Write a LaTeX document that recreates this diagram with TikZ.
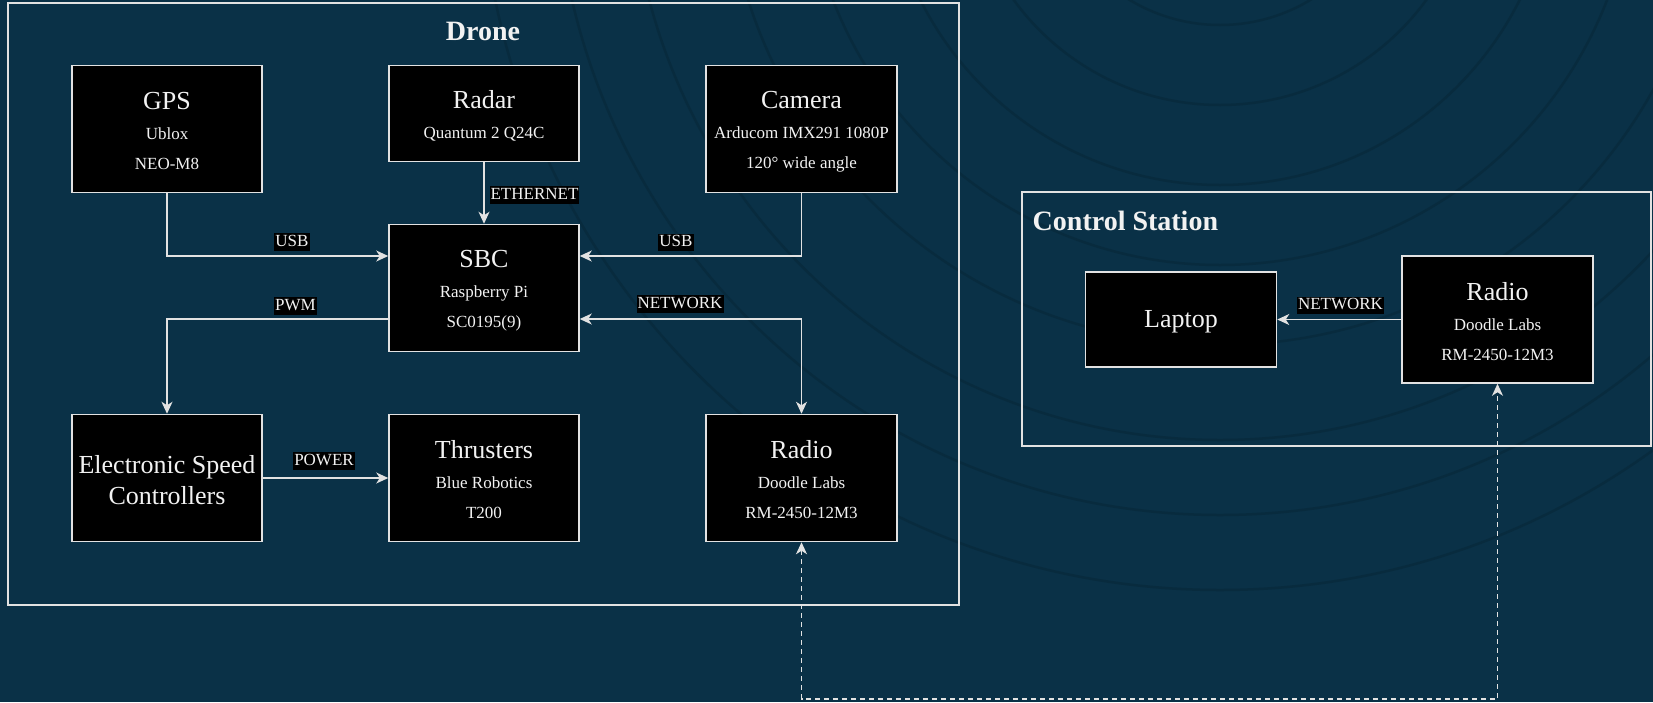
\documentclass[tikz,border=0pt]{standalone}
\usepackage{fontspec}
\setmainfont{Liberation Serif}
\usetikzlibrary{arrows.meta,calc}
\definecolor{bg}{RGB}{10,49,71}
\definecolor{arcc}{RGB}{8,43,62}
\definecolor{edgec}{RGB}{226,226,226}
\definecolor{txtc}{RGB}{242,242,242}
\tikzset{
  blk/.style={draw=edgec, fill=black, line width=1.5pt, inner sep=0pt, align=center,
    minimum width=190pt, minimum height=127pt, text=txtc, font=\fontsize{17}{30}\selectfont},
  frame/.style={draw=edgec, line width=1.5pt, inner sep=0pt},
  conn/.style={draw=edgec, line width=1.4pt, -{Stealth[length=12pt,width=11pt,inset=3.5pt]}},
  biconn/.style={draw=edgec, line width=1.4pt, {Stealth[length=12pt,width=11pt,inset=3.5pt]}-{Stealth[length=12pt,width=11pt,inset=3.5pt]}},
  lbl/.style={fill=black, text=txtc, inner xsep=1pt, inner ysep=1pt, text height=12pt, text depth=3.5pt,
    font=\fontsize{17}{17}\selectfont},
  ttl/.style={text=txtc, inner sep=0pt, font=\bfseries\fontsize{28}{28}\selectfont},
}
\newcommand{\bt}[1]{{\fontsize{26}{30}\selectfont\rule{0pt}{22pt}#1}}
\begin{document}
\begin{tikzpicture}[x=1pt,y=-1pt]
\fill[bg] (0,0) rectangle (1653,702);
\useasboundingbox (0,0) rectangle (1653,702);
\begin{scope}
\clip (0,0) rectangle (1653,702);
\foreach \r in {175,255,335,415,495,590,665,740}
  \draw[arcc, line width=2.5pt] (1220,-150) circle[radius=\r];
\end{scope}

% containers
\node[frame, minimum width=951pt, minimum height=602pt] (drone) at (483.5,304) {};
\node[ttl] (dronet) at (483,31) {Drone};
\node[frame, minimum width=629pt, minimum height=254pt] (cs) at (1336.5,319) {};
\node[ttl, anchor=west] (cst) at (1032.5,221) {Control Station};

% blocks
\node[blk] (gps) at (167,129) {\bt{GPS}\\Ublox\\NEO-M8};
\node[blk, minimum height=96pt] (radar) at (484,113.5) {\bt{Radar}\\Quantum 2 Q24C};
\node[blk, minimum width=191pt] (cam) at (801.5,129) {\bt{Camera}\\Arducom IMX291 1080P\\120° wide angle};
\node[blk] (sbc) at (484,288) {\bt{SBC}\\Raspberry Pi\\SC0195(9)};
\node[blk, font=\fontsize{26}{31}\selectfont] (esc) at (167,478) {\rule{0pt}{22pt}Electronic Speed\\Controllers};
\node[blk] (thr) at (484,478) {\bt{Thrusters}\\Blue Robotics\\T200};
\node[blk, minimum width=191pt] (radio) at (801.5,478) {\bt{Radio}\\Doodle Labs\\RM-2450-12M3};
\node[blk, minimum width=191pt, minimum height=95pt, font=\fontsize{26}{30}\selectfont] (laptop) at (1181,319.5) {\rule{0pt}{22pt}Laptop};
\node[blk, minimum width=191pt] (csradio) at (1497.5,319.5) {\bt{Radio}\\Doodle Labs\\RM-2450-12M3};

% rows
\coordinate (r1) at (0,256);
\coordinate (r2) at (0,319);
\coordinate (bot) at (0,699);

% connectors
\draw[conn] (gps.south) |- (sbc.west |- r1);
\draw[conn] (cam.south) |- (sbc.east |- r1);
\draw[conn] (radar.south) -- (sbc.north);
\draw[conn] (sbc.west |- r2) -| (esc.north);
\draw[biconn] (radio.north) |- (sbc.east |- r2);
\draw[conn] (esc.east) -- (thr.west);
\draw[conn] (csradio.west) -- (laptop.east);
\draw[biconn, dash pattern=on 5pt off 4pt] (radio.south) |- (bot -| csradio.south) -- (csradio.south);

% labels
\node[lbl] (l1) at (292,242) {USB};
\node[lbl] (l2) at (676,242.5) {USB};
\node[lbl] (l3) at (534.5,195) {ETHERNET};
\node[lbl] (l4) at (295.5,306) {PWM};
\node[lbl] (l5) at (680,304) {NETWORK};
\node[lbl] (l6) at (324,461) {POWER};
\node[lbl] (l7) at (1340.5,305.5) {NETWORK};
\end{tikzpicture}
\end{document}
